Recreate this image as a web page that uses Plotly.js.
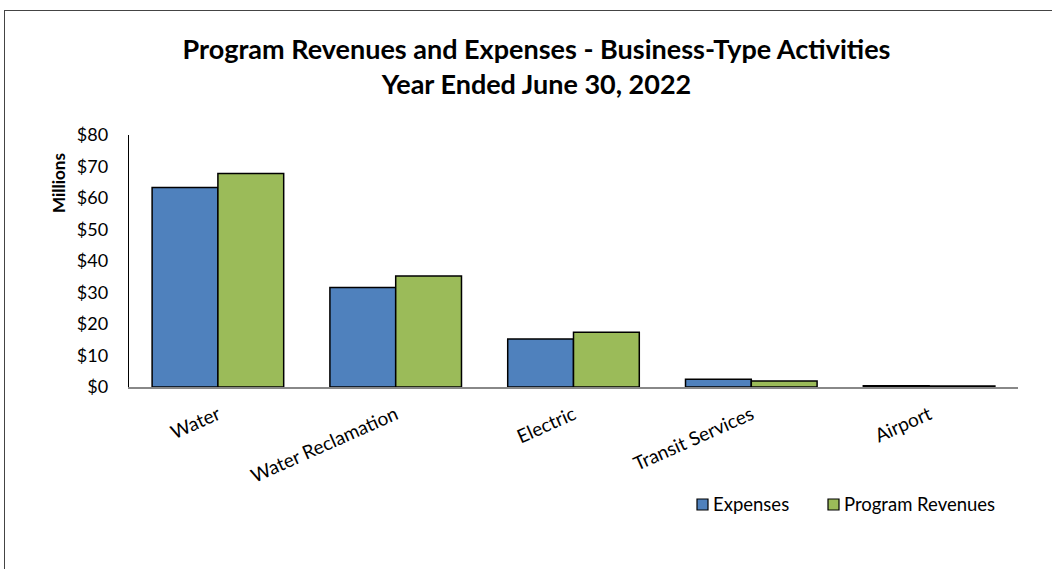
<!DOCTYPE html>
<html>
<head>
<meta charset="utf-8">
<script src="https://cdn.plot.ly/plotly-3.0.1.min.js"></script>
<style>
html,body{margin:0;padding:0;background:#fff;}
#chart{width:1052px;height:569px;position:absolute;left:0;top:0;}
#frame{position:absolute;left:4px;top:10px;width:1100px;height:600px;border-left:1px solid #444;border-top:1px solid #444;pointer-events:none;}
</style>
</head>
<body>
<div id="chart"></div>
<div id="frame"></div>
<script>
const categories = ["Water", "Water Reclamation", "Electric", "Transit Services", "Airport"];
const expenses = [63.3, 31.6, 15.2, 2.5, 0.4];
const programRevenues = [67.8, 35.2, 17.4, 1.9, 0.3];
const yTickVals = [0, 10, 20, 30, 40, 50, 60, 70, 80];
const yTickText = ["$0", "$10", "$20", "$30", "$40", "$50", "$60", "$70", "$80"];
const seriesNames = ["Expenses", "Program Revenues"];
const seriesColors = ["#4F81BD", "#9BBB59"];

const font = "Lato, 'Open Sans', sans-serif";

const traces = [
  {type: "bar", name: seriesNames[0], x: categories, y: expenses,
   marker: {color: seriesColors[0], line: {color: "#000", width: 1.5}}},
  {type: "bar", name: seriesNames[1], x: categories, y: programRevenues,
   marker: {color: seriesColors[1], line: {color: "#000", width: 1.5}}}
];

// custom legend (small square keys next to text, like the original)
const legendX = [697, 828];
const legendY = 504;
const W = 1052, H = 569, ML = 129, MR = 34, MT = 135, MB = 182;
const pw = W - ML - MR, ph = H - MT - MB;
const px = v => (v - ML) / pw;
const py = v => (H - MB - v) / ph;
const shapes = [], annotations = [];
seriesNames.forEach((n, i) => {
  shapes.push({type: "rect", xref: "paper", yref: "paper",
    x0: px(legendX[i]), x1: px(legendX[i] + 11), y0: py(legendY + 6), y1: py(legendY - 5),
    fillcolor: seriesColors[i], line: {color: "#000", width: 1.2}});
  annotations.push({xref: "paper", yref: "paper", x: px(legendX[i] + 14), y: py(legendY),
    xanchor: "left", yanchor: "middle", showarrow: false, text: n,
    font: {family: font, size: 18.5, color: "#000"}});
});
annotations.push({xref: "paper", yref: "paper", x: px(58), y: py(183), xanchor: "center", yanchor: "middle",
  showarrow: false, textangle: -90, text: "<b>Millions</b>", font: {family: font, size: 17, color: "#000"}});

const layout = {
  width: W, height: H,
  margin: {l: ML, r: MR, t: MT, b: MB},
  paper_bgcolor: "#fff", plot_bgcolor: "#fff",
  font: {family: font, color: "#000", size: 18},
  title: {text: "<b>Program Revenues and Expenses - Business-Type Activities<br>Year Ended June 30, 2022</b>",
          font: {family: font, size: 27, color: "#000"}, x: 0.51, xanchor: "center", y: 0.896, yanchor: "middle"},
  barmode: "group", bargap: 0.26, bargroupgap: 0,
  showlegend: false,
  shapes: shapes, annotations: annotations,
  xaxis: {type: "category", showline: true, linecolor: "#888", linewidth: 1.5,
          ticks: "", tickangle: -24, tickfont: {family: font, size: 19}, showgrid: false, zeroline: false,
          ticklabelstandoff: 8},
  yaxis: {range: [0, 80], tickvals: yTickVals, ticktext: yTickText, showline: true, linecolor: "#000",
          linewidth: 1.2, ticks: "", showgrid: false, zeroline: false, tickfont: {family: font, size: 18},
          ticklabelstandoff: 16}
};

Plotly.newPlot("chart", traces, layout, {staticPlot: true, displayModeBar: false});
</script>
</body>
</html>
